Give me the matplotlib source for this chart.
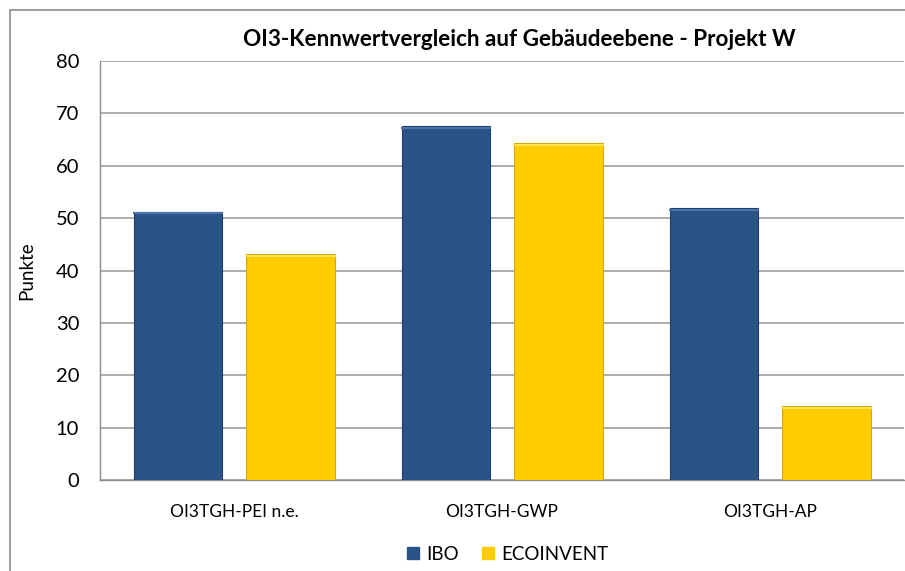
import matplotlib
matplotlib.use("Agg")
import matplotlib.pyplot as plt
import numpy as np
from matplotlib.patches import Rectangle
from matplotlib.lines import Line2D

categories = ["OI3TGH-PEI n.e.", "OI3TGH-GWP", "OI3TGH-AP"]
series_names = ["IBO", "ECOINVENT"]
ibo = [51.2, 67.6, 51.9]
ecoinvent = [43.1, 64.3, 14.1]
yticks = [0, 10, 20, 30, 40, 50, 60, 70, 80]

plt.rcParams['font.family'] = ['Lato', 'DejaVu Sans']

fig = plt.figure(figsize=(9.05, 5.71), dpi=100)
ax = fig.add_axes([100/905, 1-480/571, 804/905, 419/571])

x = np.arange(len(categories))
w = 0.332
off = 0.209
blue = "#2A5387"
yellow = "#FFCC00"
ax.bar(x - off, ibo, w, color=blue, edgecolor="#1E3F6A", linewidth=0.8, zorder=3)
ax.bar(x + off, ecoinvent, w, color=yellow, edgecolor="#D4A800", linewidth=0.8, zorder=3)
# subtle top highlight
for xi, v in zip(x - off, ibo):
    ax.plot([xi - w/2, xi + w/2], [v - 0.3, v - 0.3], color="#4A74A8", lw=1.5, zorder=4)
for xi, v in zip(x + off, ecoinvent):
    ax.plot([xi - w/2, xi + w/2], [v - 0.3, v - 0.3], color="#FFE24D", lw=1.5, zorder=4)

ax.set_xlim(-0.5, 2.5)
ax.set_ylim(0, 80)
ax.set_yticks(yticks)
ax.set_xticks(x)
ax.set_xticklabels(categories)
ax.yaxis.grid(True, color="#A6A6A6", lw=1.3, zorder=0)
ax.set_axisbelow(True)
for s in ["top", "right"]:
    ax.spines[s].set_visible(False)
ax.spines["left"].set_color("#8C8C8C")
ax.spines["bottom"].set_color("#8C8C8C")
ax.spines["left"].set_linewidth(1.0)
ax.spines["bottom"].set_linewidth(1.0)
ax.tick_params(axis="y", length=0, pad=15, labelsize=14.5)
ax.tick_params(axis="x", length=0, pad=17, labelsize=12.5)
ax.set_ylabel("Punkte", fontsize=13.5)
ax.yaxis.set_label_coords(-(100-35)/804, 0.5)

fig.text(519/905, 1-40/571, "OI3-Kennwertvergleich auf Gebäudeebene - Projekt W",
         ha="center", va="center", fontsize=16.2, fontweight="bold")

handles = [Line2D([], [], marker="s", ls="", color=blue, markersize=9),
           Line2D([], [], marker="s", ls="", color=yellow, markersize=9)]
fig.legend(handles, series_names, loc="center", bbox_to_anchor=(505/905, 1-554/571),
           ncol=2, frameon=False, fontsize=13.5, handletextpad=0.1, columnspacing=1.0,
           handlelength=1.2, borderpad=0)

fig.patches.append(Rectangle((10/905, -0.05), 1.1, 1-10/571 + 0.05, transform=fig.transFigure,
                             fill=False, edgecolor="#8C8C8C", lw=1.2))

fig.savefig("out.png", dpi=100)
